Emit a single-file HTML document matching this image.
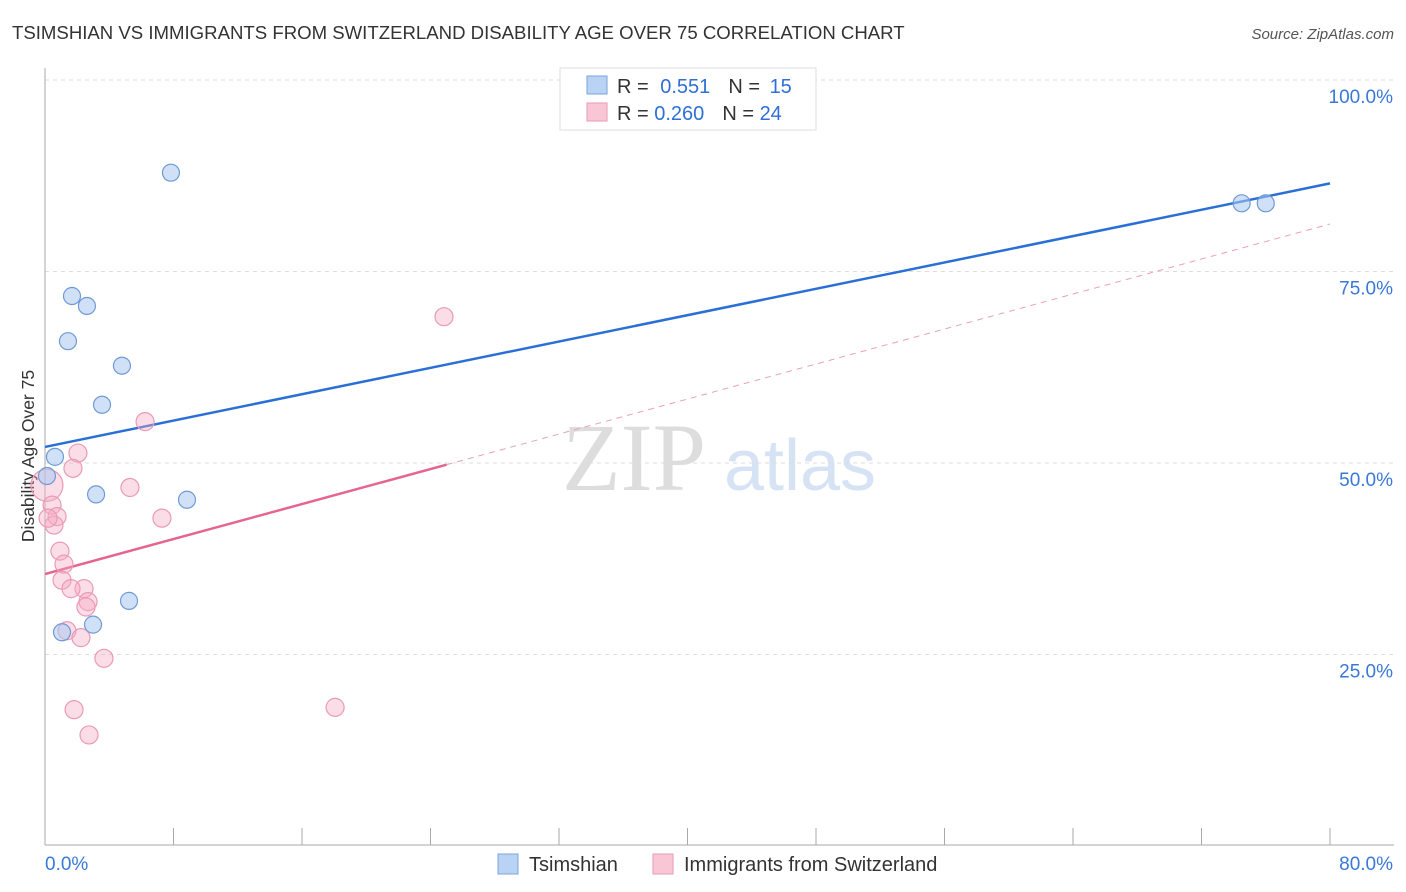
<!DOCTYPE html>
<html><head><meta charset="utf-8"><style>
body{margin:0;background:#fff;font-family:"Liberation Sans",sans-serif}
svg{display:block}
</style></head><body>
<svg id="c" width="1406" height="892">
<text x="12" y="39" font-size="18.6" fill="#333">TSIMSHIAN VS IMMIGRANTS FROM SWITZERLAND DISABILITY AGE OVER 75 CORRELATION CHART</text>
<text x="1394" y="39" font-size="15" fill="#555" font-style="italic" text-anchor="end">Source: ZipAtlas.com</text>
<g><text x="634" y="490" font-family="Liberation Serif,serif" font-size="96" fill="#ddd" text-anchor="middle">ZIP</text><text x="800" y="490" font-size="72" fill="#d6e3f5" text-anchor="middle">atlas</text></g>
<g id="grid"></g>
<g id="axes"></g>
<text transform="translate(34,456) rotate(-90)" font-size="17.5" fill="#333" text-anchor="middle">Disability Age Over 75</text>
<g id="lines"></g>
<g id="pts"></g>
<g>
<rect x="560" y="68" width="256" height="62" fill="#fff" stroke="#ddd"/>
<rect x="587" y="76" width="20" height="18" fill="#b9d3f5" stroke="#7aa3dc"/>
<rect x="587" y="103" width="20" height="18" fill="#f9c6d6" stroke="#ea9ab3"/>
<text x="617" y="93" font-size="20" fill="#333">R = <tspan fill="#2f6fd6" dx="6">0.551</tspan><tspan dx="18" fill="#333">N = </tspan><tspan fill="#2f6fd6" dx="4">15</tspan></text>
<text x="617" y="120" font-size="20" fill="#333">R = <tspan fill="#2f6fd6">0.260</tspan><tspan dx="18" fill="#333">N = </tspan><tspan fill="#2f6fd6">24</tspan></text>
</g>
<g>
<rect x="498" y="854" width="20" height="20" fill="#b9d3f5" stroke="#7aa3dc"/>
<text x="529" y="871" font-size="20" fill="#333">Tsimshian</text>
<rect x="653" y="854" width="20" height="20" fill="#f9c6d6" stroke="#ea9ab3"/>
<text x="684" y="871" font-size="20" fill="#333">Immigrants from Switzerland</text>
</g>
</svg>
<script>
const yTicks=[25,50,75,100];
const xTickLabels=["0.0%","80.0%"];
const blueX=[7.84,1.68,2.61,1.43,4.79,3.55,0.62,0.12,3.18,8.84,5.23,2.99,1.06,74.5,76.0];
const blueY=[87.9,71.8,70.5,65.9,62.7,57.6,50.8,48.3,45.9,45.2,32.0,28.9,27.9,83.9,83.9];
const pinkX=[24.84,6.23,2.05,1.74,5.29,0.12,0.44,0.75,7.28,0.56,0.19,0.93,1.18,1.06,2.43,1.62,2.68,2.55,1.37,2.24,3.67,18.06,1.81,2.74];
const pinkY=[69.1,55.4,51.3,49.3,46.8,47.1,44.5,43.0,42.8,41.9,42.8,38.5,36.8,34.7,33.6,33.6,31.9,31.2,28.1,27.2,24.5,18.1,17.8,14.5];
const pinkR=[9,9,9,9,9,16,9,9,9,9,9,9,9,9,9,9,9,9,9,9,9,9,9,9];
const blueLine=[52.1,86.5];
const pinkLine=[35.5,81.2];
const pinkSolidEnd=25;
const NS="http://www.w3.org/2000/svg";
const X=v=>45+v/80*1285, Y=v=>846-v/25*191.5;
function mk(t,a,p){const e=document.createElementNS(NS,t);for(const k in a)e.setAttribute(k,a[k]);p.appendChild(e);return e;}
const g=document.getElementById('grid'),ax=document.getElementById('axes'),ln=document.getElementById('lines'),pt=document.getElementById('pts');
yTicks.forEach(t=>{
 const l=mk('line',{x1:45,x2:1394,y1:Y(t),y2:Y(t),stroke:'#ddd','stroke-dasharray':'4,4'},g);
 
 
 const tx=mk('text',{x:1393,y:Y(t)+23,'font-size':19,fill:'#3a78d8','text-anchor':'end'},ax);
 tx.textContent=t.toFixed(1)+'%';
 
 
});
const xa=mk('line',{x1:45,x2:1394,y1:845,y2:845,stroke:'#aaa'},ax);


const ya=mk('line',{x1:45,x2:45,y1:68,y2:845,stroke:'#aaa'},ax);


for(let i=0;i<=10;i++){const t=mk('line',{x1:X(i*8),x2:X(i*8),y1:828,y2:845,stroke:'#aaa'},ax);
 
 }
[[0,45,'start'],[80,1393,'end']].forEach((d,i)=>{const t=mk('text',{x:d[1],y:870,'font-size':19,fill:'#3a78d8','text-anchor':d[2]},ax);t.textContent=xTickLabels[i];
 
 });
const lp=v=>pinkLine[0]+(pinkLine[1]-pinkLine[0])*v/80;
let e=mk('line',{x1:X(0),y1:Y(blueLine[0]),x2:X(80),y2:Y(blueLine[1]),stroke:'#2a6fd6','stroke-width':2.5},ln);


e=mk('line',{x1:X(pinkSolidEnd),y1:Y(lp(pinkSolidEnd)),x2:X(80),y2:Y(pinkLine[1]),stroke:'#eba0b8','stroke-width':1,'stroke-dasharray':'6,5'},ln);


e=mk('line',{x1:X(0),y1:Y(pinkLine[0]),x2:X(pinkSolidEnd),y2:Y(lp(pinkSolidEnd)),stroke:'#e5658f','stroke-width':2.5},ln);


pinkX.forEach((v,i)=>{const c=mk('circle',{cx:X(v),cy:Y(pinkY[i]),r:pinkR[i],fill:'rgba(245,170,195,0.4)',stroke:'#eb9ab4','stroke-width':1.2},pt);
 
 });
blueX.forEach((v,i)=>{const c=mk('circle',{cx:X(v),cy:Y(blueY[i]),r:8.5,fill:'rgba(170,200,240,0.55)',stroke:'#6f9ad6','stroke-width':1.2},pt);
 
 });
</script>
</body></html>
